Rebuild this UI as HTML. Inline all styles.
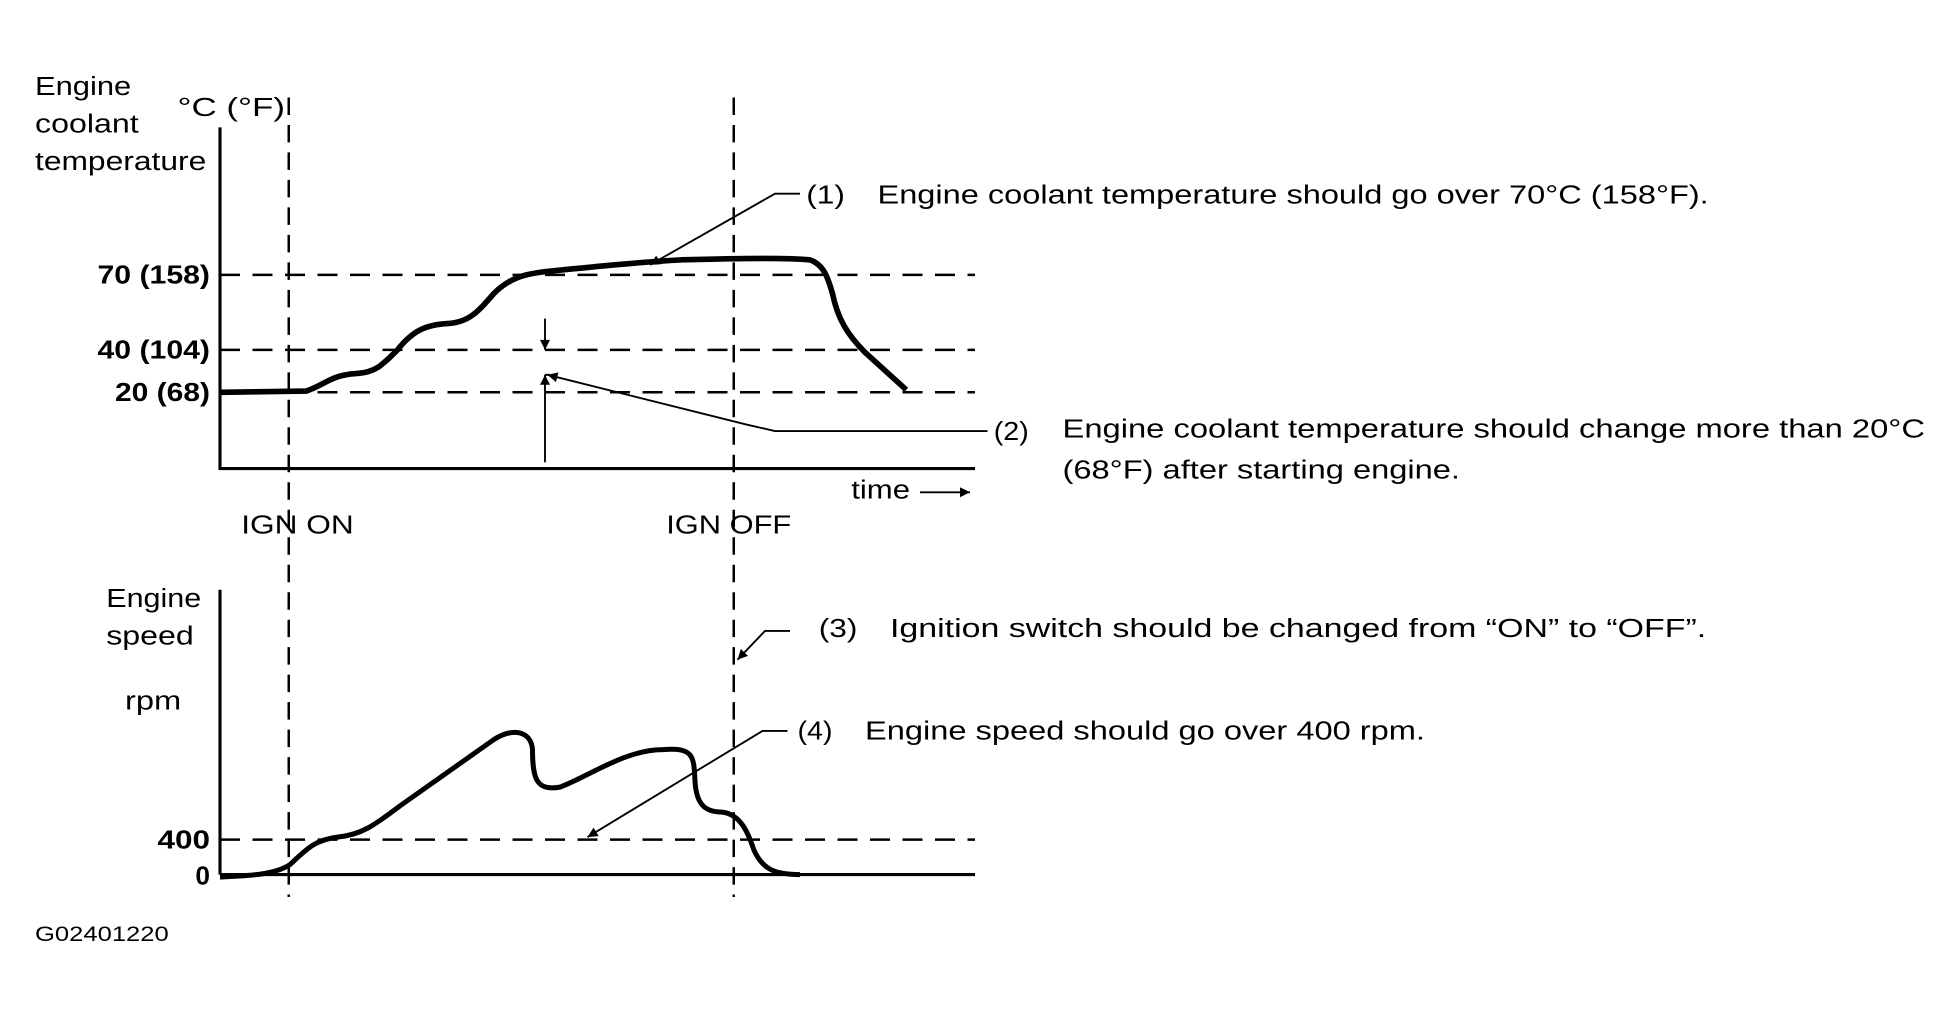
<!DOCTYPE html>
<html><head><meta charset="utf-8"><style>
html,body{margin:0;padding:0;background:#fff;}
svg{display:block;}
text{font-family:"Liberation Sans",sans-serif;font-size:21px;fill:#000;}
.b{font-weight:bold;}
</style></head><body>
<svg width="1950" height="1012" viewBox="0 0 1560 810" preserveAspectRatio="none" xmlns="http://www.w3.org/2000/svg">
<defs><marker id="ar" viewBox="0 0 10 10" refX="10" refY="5" markerWidth="10" markerHeight="8" orient="auto-start-reverse" markerUnits="userSpaceOnUse"><path d="M0,0 L10,5 L0,10 z" fill="#000"/></marker></defs>
<g stroke="#000" fill="none">
<path d="M176,102 V375 H780" stroke-width="2.5"/>
<path d="M176,700 H780 M176,472 V700" stroke-width="2.5"/>
<path d="M231,78 V718 M587,78 V718" stroke-width="2" stroke-dasharray="14,8"/>
<path d="M176,220 H780 M176,280 H780 M176,314 H780 M176,672 H780" stroke-width="2" stroke-dasharray="16,10"/>
<path d="M176,314 L245,313 C260,308 265,300 285,299 C300,298 305,293 318,280 C330,265 340,260 358,259 C375,258 382,250 395,235 C408,222 420,219 440,217 C480,213 510,210 545,208 C580,207 630,206 648,208 C660,212 663,225 666,235 C670,255 678,268 692,282 L725,312" stroke-width="4.5"/>
<path d="M176,702 C200,701 220,700 232,692 C245,680 252,672 270,670 C290,668 300,660 320,645 L395,592 C410,582 425,585 426,600 C426,625 430,633 448,630 C470,622 500,600 530,600 C555,598 555,605 556,625 C557,645 565,650 578,650 C592,652 598,665 603,680 C610,696 620,700 640,700" stroke-width="4"/>
<path d="M640,155 H620 L520,212" stroke-width="1.5" marker-end="url(#ar)"/>
<path d="M790,345 H620 L598,340 L438,300" stroke-width="1.5" marker-end="url(#ar)"/>
<path d="M436,255 V280" stroke-width="1.5" marker-end="url(#ar)"/>
<path d="M436,370 V300" stroke-width="1.5" marker-end="url(#ar)"/>
<path d="M436,300 H440" stroke-width="1.5"/>
<path d="M632,505 H612 L590,528" stroke-width="1.5" marker-end="url(#ar)"/>
<path d="M630,585 H610 L470,670" stroke-width="1.5" marker-end="url(#ar)"/>
<path d="M736,394 H776" stroke-width="1.5" marker-end="url(#ar)"/>
</g>
<text x="28" y="76" textLength="77" lengthAdjust="spacingAndGlyphs">Engine</text>
<text x="28" y="106" textLength="83" lengthAdjust="spacingAndGlyphs">coolant</text>
<text x="28" y="136" textLength="137" lengthAdjust="spacingAndGlyphs">temperature</text>
<text x="142" y="93" textLength="86" lengthAdjust="spacingAndGlyphs">°C (°F)</text>
<text class="b" x="78" y="227" textLength="90" lengthAdjust="spacingAndGlyphs">70 (158)</text>
<text class="b" x="78" y="287" textLength="90" lengthAdjust="spacingAndGlyphs">40 (104)</text>
<text class="b" x="92" y="321" textLength="76" lengthAdjust="spacingAndGlyphs">20 (68)</text>
<text x="681" y="399" textLength="47" lengthAdjust="spacingAndGlyphs">time</text>
<text x="193" y="427" textLength="90" lengthAdjust="spacingAndGlyphs">IGN ON</text>
<text x="533" y="427" textLength="100" lengthAdjust="spacingAndGlyphs">IGN OFF</text>
<text x="85" y="486" textLength="76" lengthAdjust="spacingAndGlyphs">Engine</text>
<text x="85" y="516" textLength="70" lengthAdjust="spacingAndGlyphs">speed</text>
<text x="100" y="568" textLength="45" lengthAdjust="spacingAndGlyphs">rpm</text>
<text class="b" x="126" y="679" textLength="42" lengthAdjust="spacingAndGlyphs">400</text>
<text class="b" x="168" y="708" text-anchor="end">0</text>
<text x="28" y="753" style="font-size:17px" textLength="107" lengthAdjust="spacingAndGlyphs">G02401220</text>
<text x="645" y="163" textLength="31" lengthAdjust="spacingAndGlyphs">(1)</text>
<text x="702" y="163" textLength="665" lengthAdjust="spacingAndGlyphs">Engine coolant temperature should go over 70°C (158°F).</text>
<text x="795" y="352" textLength="28" lengthAdjust="spacingAndGlyphs">(2)</text>
<text x="850" y="350" textLength="690" lengthAdjust="spacingAndGlyphs">Engine coolant temperature should change more than 20°C</text>
<text x="850" y="383" textLength="318" lengthAdjust="spacingAndGlyphs">(68°F) after starting engine.</text>
<text x="655" y="510" textLength="31" lengthAdjust="spacingAndGlyphs">(3)</text>
<text x="712" y="510" textLength="653" lengthAdjust="spacingAndGlyphs">Ignition switch should be changed from “ON” to “OFF”.</text>
<text x="638" y="592" textLength="28" lengthAdjust="spacingAndGlyphs">(4)</text>
<text x="692" y="592" textLength="448" lengthAdjust="spacingAndGlyphs">Engine speed should go over 400 rpm.</text>
</svg>
</body></html>
